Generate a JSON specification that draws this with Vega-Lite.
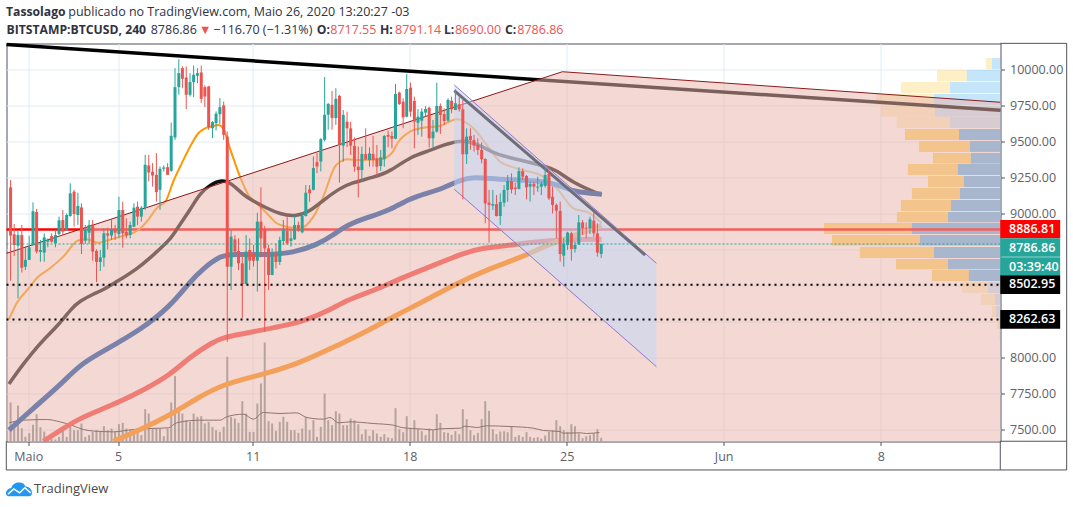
{"$schema":"https://vega.github.io/schema/vega-lite/v6.json","width":994,"height":398,"autosize":{"type":"none"},"padding":{"left":6.5,"top":43.5,"right":72.5,"bottom":65.5},"background":"#ffffff","config":{"view":{"stroke":"#50535e","strokeWidth":1},"font":"Open Sans"},
"datasets":{
"candles":[
{"d":0.21,"o":9180,"h":9231,"l":8532,"c":8845,"v":117},{"d":0.37,"o":8854,"h":8926,"l":8703,"c":8780,"v":60},{"d":0.54,"o":8775,"h":8884,"l":8410,"c":8849,"v":108},{"d":0.71,"o":8849,"h":8919,"l":8588,"c":8622,"v":40},{"d":0.87,"o":8629,"h":8768,"l":8606,"c":8676,"v":14},{"d":1.04,"o":8676,"h":8844,"l":8676,"c":8764,"v":25},{"d":1.21,"o":8780,"h":9076,"l":8773,"c":9014,"v":50},{"d":1.37,"o":9009,"h":9030,"l":8722,"c":8734,"v":82},{"d":1.54,"o":8731,"h":8815,"l":8664,"c":8745,"v":43},{"d":1.71,"o":8727,"h":8861,"l":8664,"c":8833,"v":30},
{"d":1.87,"o":8803,"h":8826,"l":8764,"c":8815,"v":8},{"d":2.04,"o":8842,"h":8861,"l":8796,"c":8803,"v":8},{"d":2.21,"o":8791,"h":8884,"l":8764,"c":8849,"v":6},{"d":2.37,"o":8856,"h":8977,"l":8849,"c":8951,"v":14},{"d":2.54,"o":8953,"h":9023,"l":8849,"c":8872,"v":44},{"d":2.71,"o":8884,"h":9000,"l":8879,"c":8988,"v":14},{"d":2.87,"o":8981,"h":9208,"l":8976,"c":9139,"v":59},{"d":3.04,"o":9150,"h":9162,"l":8907,"c":8995,"v":34},{"d":3.21,"o":8988,"h":9143,"l":8919,"c":9051,"v":34},{"d":3.37,"o":9041,"h":9069,"l":8717,"c":8787,"v":54},
{"d":3.54,"o":8810,"h":8919,"l":8787,"c":8884,"v":14},{"d":3.71,"o":8865,"h":8953,"l":8787,"c":8919,"v":19},{"d":3.87,"o":8923,"h":8953,"l":8671,"c":8734,"v":29},{"d":4.04,"o":8738,"h":8750,"l":8523,"c":8662,"v":34},{"d":4.21,"o":8662,"h":8745,"l":8599,"c":8694,"v":29},{"d":4.37,"o":8692,"h":8895,"l":8629,"c":8861,"v":46},{"d":4.54,"o":8861,"h":8900,"l":8750,"c":8845,"v":34},{"d":4.71,"o":8845,"h":8953,"l":8815,"c":8888,"v":39},{"d":4.87,"o":8888,"h":8919,"l":8815,"c":8865,"v":29},{"d":5.04,"o":8856,"h":9115,"l":8826,"c":9023,"v":52},
{"d":5.21,"o":9023,"h":9081,"l":8761,"c":8861,"v":56},{"d":5.37,"o":8872,"h":8965,"l":8826,"c":8845,"v":39},{"d":5.54,"o":8849,"h":8942,"l":8826,"c":8919,"v":34},{"d":5.71,"o":8907,"h":9069,"l":8902,"c":9039,"v":34},{"d":5.87,"o":9046,"h":9081,"l":8919,"c":8977,"v":29},{"d":6.04,"o":8977,"h":9050,"l":8942,"c":9039,"v":19},{"d":6.21,"o":9036,"h":9406,"l":9024,"c":9337,"v":97},{"d":6.37,"o":9332,"h":9406,"l":9221,"c":9283,"v":84},{"d":6.54,"o":9288,"h":9348,"l":9185,"c":9262,"v":39},{"d":6.71,"o":9267,"h":9418,"l":9082,"c":9147,"v":39},
{"d":6.87,"o":9163,"h":9325,"l":9024,"c":9309,"v":39},{"d":7.04,"o":9309,"h":9332,"l":9290,"c":9318,"v":16},{"d":7.21,"o":9320,"h":9348,"l":9267,"c":9267,"v":39},{"d":7.37,"o":9295,"h":9630,"l":9288,"c":9538,"v":117},{"d":7.54,"o":9527,"h":10008,"l":9510,"c":9876,"v":196},{"d":7.71,"o":9876,"h":10070,"l":9823,"c":9973,"v":102},{"d":7.87,"o":10008,"h":10020,"l":9869,"c":9934,"v":84},{"d":8.04,"o":9943,"h":10020,"l":9723,"c":9823,"v":64},{"d":8.21,"o":9823,"h":9973,"l":9811,"c":9911,"v":59},{"d":8.37,"o":9911,"h":10026,"l":9807,"c":9962,"v":84},
{"d":8.54,"o":9955,"h":10008,"l":9904,"c":9973,"v":74},{"d":8.71,"o":9978,"h":10026,"l":9765,"c":9795,"v":76},{"d":8.87,"o":9876,"h":9888,"l":9737,"c":9811,"v":54},{"d":9.04,"o":9881,"h":9885,"l":9580,"c":9598,"v":59},{"d":9.21,"o":9591,"h":9640,"l":9522,"c":9633,"v":44},{"d":9.37,"o":9626,"h":9707,"l":9575,"c":9691,"v":34},{"d":9.54,"o":9688,"h":9800,"l":9621,"c":9737,"v":29},{"d":9.71,"o":9749,"h":9776,"l":9510,"c":9545,"v":44},{"d":9.87,"o":9533,"h":9568,"l":8108,"c":8629,"v":254},{"d":10.04,"o":8629,"h":8884,"l":8467,"c":8838,"v":74},
{"d":10.21,"o":8819,"h":8849,"l":8720,"c":8734,"v":69},{"d":10.37,"o":8738,"h":8826,"l":8606,"c":8652,"v":56},{"d":10.54,"o":8652,"h":8722,"l":8272,"c":8509,"v":121},{"d":10.71,"o":8509,"h":8849,"l":8505,"c":8734,"v":84},{"d":10.87,"o":8745,"h":8826,"l":8606,"c":8671,"v":29},{"d":11.04,"o":8717,"h":8780,"l":8630,"c":8671,"v":29},{"d":11.21,"o":8671,"h":9004,"l":8456,"c":8942,"v":114},{"d":11.37,"o":8942,"h":9180,"l":8694,"c":8826,"v":174},{"d":11.54,"o":8888,"h":8912,"l":8178,"c":8756,"v":297},{"d":11.71,"o":8756,"h":8780,"l":8467,"c":8571,"v":61},
{"d":11.87,"o":8571,"h":8756,"l":8571,"c":8722,"v":54},{"d":12.04,"o":8722,"h":8791,"l":8617,"c":8662,"v":32},{"d":12.21,"o":8662,"h":8838,"l":8641,"c":8815,"v":59},{"d":12.37,"o":8808,"h":8953,"l":8780,"c":8888,"v":74},{"d":12.54,"o":8877,"h":8981,"l":8780,"c":8791,"v":59},{"d":12.71,"o":8808,"h":8880,"l":8768,"c":8826,"v":34},{"d":12.87,"o":8819,"h":8981,"l":8815,"c":8919,"v":34},{"d":13.04,"o":8919,"h":8942,"l":8872,"c":8879,"v":26},{"d":13.21,"o":8868,"h":9000,"l":8861,"c":8981,"v":39},{"d":13.37,"o":8981,"h":9196,"l":8977,"c":9143,"v":74},
{"d":13.54,"o":9166,"h":9196,"l":9080,"c":9139,"v":34},{"d":13.71,"o":9163,"h":9395,"l":9158,"c":9314,"v":64},{"d":13.87,"o":9355,"h":9418,"l":9279,"c":9325,"v":14},{"d":14.04,"o":9360,"h":9522,"l":9290,"c":9515,"v":44},{"d":14.21,"o":9510,"h":9946,"l":9499,"c":9684,"v":144},{"d":14.37,"o":9684,"h":9765,"l":9580,"c":9760,"v":64},{"d":14.54,"o":9753,"h":9849,"l":9580,"c":9661,"v":49},{"d":14.71,"o":9661,"h":9869,"l":9614,"c":9795,"v":91},{"d":14.87,"o":9815,"h":9823,"l":9213,"c":9480,"v":84},{"d":15.04,"o":9470,"h":9717,"l":9358,"c":9683,"v":49},
{"d":15.21,"o":9636,"h":9706,"l":9460,"c":9590,"v":49},{"d":15.37,"o":9590,"h":9636,"l":9405,"c":9470,"v":69},{"d":15.54,"o":9467,"h":9527,"l":9289,"c":9324,"v":64},{"d":15.71,"o":9324,"h":9463,"l":9110,"c":9300,"v":52},{"d":15.87,"o":9300,"h":9463,"l":9220,"c":9412,"v":22},{"d":16.04,"o":9412,"h":9590,"l":9370,"c":9375,"v":36},{"d":16.21,"o":9370,"h":9458,"l":9324,"c":9416,"v":17},{"d":16.37,"o":9412,"h":9537,"l":9324,"c":9370,"v":34},{"d":16.54,"o":9382,"h":9474,"l":9254,"c":9324,"v":24},{"d":16.71,"o":9328,"h":9440,"l":9294,"c":9389,"v":14},
{"d":16.87,"o":9375,"h":9544,"l":9324,"c":9537,"v":22},{"d":17.04,"o":9544,"h":9574,"l":9458,"c":9532,"v":12},{"d":17.21,"o":9537,"h":9567,"l":9451,"c":9518,"v":10},{"d":17.37,"o":9518,"h":9898,"l":9514,"c":9828,"v":100},{"d":17.54,"o":9838,"h":9845,"l":9752,"c":9759,"v":37},{"d":17.71,"o":9775,"h":9798,"l":9590,"c":9666,"v":28},{"d":17.87,"o":9671,"h":9967,"l":9666,"c":9863,"v":76},{"d":18.04,"o":9872,"h":9907,"l":9671,"c":9706,"v":40},{"d":18.21,"o":9780,"h":9810,"l":9451,"c":9636,"v":64},{"d":18.37,"o":9629,"h":9724,"l":9544,"c":9671,"v":38},
{"d":18.54,"o":9643,"h":9729,"l":9532,"c":9706,"v":31},{"d":18.71,"o":9699,"h":9745,"l":9671,"c":9724,"v":19},{"d":18.87,"o":9733,"h":9740,"l":9458,"c":9521,"v":39},{"d":19.04,"o":9521,"h":9648,"l":9458,"c":9567,"v":34},{"d":19.21,"o":9567,"h":9907,"l":9560,"c":9745,"v":82},{"d":19.37,"o":9745,"h":9763,"l":9551,"c":9683,"v":56},{"d":19.54,"o":9689,"h":9729,"l":9613,"c":9641,"v":28},{"d":19.71,"o":9643,"h":9798,"l":9636,"c":9787,"v":26},{"d":19.87,"o":9782,"h":9810,"l":9694,"c":9722,"v":20},{"d":20.04,"o":9717,"h":9860,"l":9717,"c":9764,"v":31},
{"d":20.21,"o":9757,"h":9810,"l":9706,"c":9722,"v":22},{"d":20.37,"o":9722,"h":9787,"l":9097,"c":9410,"v":97},{"d":20.54,"o":9410,"h":9590,"l":9342,"c":9532,"v":67},{"d":20.71,"o":9537,"h":9590,"l":9440,"c":9509,"v":34},{"d":20.87,"o":9509,"h":9544,"l":9428,"c":9470,"v":19},{"d":21.04,"o":9474,"h":9520,"l":9405,"c":9440,"v":26},{"d":21.21,"o":9440,"h":9493,"l":9347,"c":9375,"v":67},{"d":21.37,"o":9377,"h":9382,"l":8930,"c":9069,"v":121},{"d":21.54,"o":9074,"h":9162,"l":8796,"c":9058,"v":92},{"d":21.71,"o":9053,"h":9162,"l":9023,"c":9064,"v":37},
{"d":21.87,"o":9064,"h":9127,"l":8977,"c":8981,"v":22},{"d":22.04,"o":8981,"h":9138,"l":8919,"c":9078,"v":30},{"d":22.21,"o":9074,"h":9196,"l":9046,"c":9162,"v":31},{"d":22.37,"o":9162,"h":9266,"l":9080,"c":9224,"v":28},{"d":22.54,"o":9224,"h":9277,"l":9138,"c":9166,"v":44},{"d":22.71,"o":9178,"h":9212,"l":9127,"c":9169,"v":14},{"d":22.87,"o":9169,"h":9319,"l":9166,"c":9293,"v":19},{"d":23.04,"o":9293,"h":9312,"l":9231,"c":9254,"v":14},{"d":23.21,"o":9259,"h":9266,"l":9097,"c":9180,"v":28},{"d":23.37,"o":9185,"h":9220,"l":9081,"c":9203,"v":14},
{"d":23.54,"o":9203,"h":9220,"l":9127,"c":9185,"v":11},{"d":23.71,"o":9178,"h":9254,"l":9150,"c":9185,"v":13},{"d":23.87,"o":9185,"h":9220,"l":9127,"c":9203,"v":9},{"d":24.04,"o":9190,"h":9319,"l":9178,"c":9266,"v":18},{"d":24.21,"o":9273,"h":9312,"l":9092,"c":9104,"v":29},{"d":24.37,"o":9115,"h":9185,"l":8999,"c":9058,"v":34},{"d":24.54,"o":9058,"h":9069,"l":8826,"c":9018,"v":64},{"d":24.71,"o":9016,"h":9081,"l":8664,"c":8717,"v":46},{"d":24.87,"o":8706,"h":8826,"l":8629,"c":8791,"v":34},{"d":25.04,"o":8780,"h":8872,"l":8745,"c":8866,"v":29},
{"d":25.21,"o":8861,"h":8872,"l":8671,"c":8752,"v":52},{"d":25.37,"o":8752,"h":8803,"l":8727,"c":8780,"v":46},{"d":25.54,"o":8784,"h":8988,"l":8780,"c":8937,"v":24},{"d":25.71,"o":8937,"h":8953,"l":8849,"c":8896,"v":10},{"d":25.87,"o":8900,"h":8937,"l":8826,"c":8895,"v":16},{"d":26.04,"o":8896,"h":8976,"l":8856,"c":8958,"v":19},{"d":26.21,"o":8949,"h":9011,"l":8838,"c":8861,"v":24},{"d":26.37,"o":8861,"h":8930,"l":8699,"c":8727,"v":37},{"d":26.54,"o":8717.55,"h":8791.14,"l":8690,"c":8786.86,"v":11}],
"volma":[{"d":0.14,"v":56},{"d":0.78,"v":64},{"d":1.82,"v":66},{"d":2.41,"v":59},{"d":2.93,"v":49},{"d":3.45,"v":36},{"d":3.97,"v":31},{"d":4.79,"v":29},{"d":5.68,"v":36},{"d":6.43,"v":39},{"d":7.24,"v":41},{"d":7.61,"v":56},{"d":8.65,"v":64},{"d":9.55,"v":64},{"d":9.84,"v":74},{"d":10.59,"v":82},{"d":11.03,"v":67},{"d":11.48,"v":87},{"d":12.22,"v":84},{"d":12.96,"v":86},{"d":13.41,"v":72},{"d":14.15,"v":67},{"d":14.45,"v":72},{"d":14.82,"v":56},{"d":15.34,"v":59},{"d":16.38,"v":54},{"d":17.27,"v":49},{"d":17.64,"v":42},{"d":18.61,"v":37},{"d":19.06,"v":35},{"d":19.35,"v":38},{"d":20.25,"v":40},{"d":20.47,"v":46},{"d":20.99,"v":42},{"d":21.43,"v":47},{"d":22.47,"v":45},{"d":23.51,"v":40},{"d":23.96,"v":33},{"d":24.7,"v":30},{"d":24.85,"v":25},{"d":25.6,"v":26},{"d":25.89,"v":24},{"d":26.46,"v":27}],
"ma20":[{"d":0.14,"p":8264},{"d":0.48,"p":8375},{"d":1.08,"p":8490},{"d":1.37,"p":8549},{"d":1.97,"p":8618},{"d":2.56,"p":8699},{"d":3.22,"p":8811},{"d":3.6,"p":8819},{"d":4.12,"p":8796},{"d":4.49,"p":8810},{"d":5.09,"p":8838},{"d":5.9,"p":8884},{"d":6.28,"p":8942},{"d":6.72,"p":9035},{"d":7.14,"p":9089},{"d":7.46,"p":9219},{"d":7.84,"p":9347},{"d":8.21,"p":9462},{"d":8.58,"p":9556},{"d":8.88,"p":9590},{"d":9.25,"p":9606},{"d":9.47,"p":9613},{"d":9.69,"p":9590},{"d":9.99,"p":9451},{"d":10.44,"p":9254},{"d":10.81,"p":9127},{"d":11.18,"p":9070},{"d":11.63,"p":9000},{"d":12.07,"p":8931},{"d":12.52,"p":8907},{"d":13.11,"p":8896},{"d":13.71,"p":8977},{"d":14.15,"p":9115},{"d":14.67,"p":9324},{"d":14.9,"p":9358},{"d":15.19,"p":9375},{"d":15.79,"p":9370},{"d":16.68,"p":9375},{"d":17.2,"p":9417},{"d":17.5,"p":9497},{"d":18.02,"p":9567},{"d":18.61,"p":9594},{"d":19.35,"p":9606},{"d":20.1,"p":9653},{"d":20.84,"p":9590},{"d":21.44,"p":9474},{"d":22.03,"p":9358},{"d":22.77,"p":9312},{"d":23.96,"p":9254},{"d":24.56,"p":9174},{"d":25.3,"p":9034},{"d":26.04,"p":9000},{"d":26.56,"p":8931}],
"ma50":[{"d":0.14,"p":7815},{"d":0.63,"p":7924},{"d":1.15,"p":8028},{"d":1.74,"p":8132},{"d":2.34,"p":8224},{"d":2.93,"p":8340},{"d":3.3,"p":8391},{"d":3.9,"p":8440},{"d":4.34,"p":8467},{"d":4.94,"p":8525},{"d":5.9,"p":8618},{"d":6.65,"p":8722},{"d":7.32,"p":8815},{"d":7.69,"p":8907},{"d":8.21,"p":9023},{"d":8.65,"p":9139},{"d":9.1,"p":9197},{"d":9.62,"p":9236},{"d":10.07,"p":9208},{"d":10.58,"p":9127},{"d":11.03,"p":9085},{"d":11.63,"p":9035},{"d":12.22,"p":8995},{"d":12.89,"p":8976},{"d":13.56,"p":9011},{"d":14.15,"p":9092},{"d":14.9,"p":9174},{"d":15.34,"p":9208},{"d":16.38,"p":9250},{"d":17.12,"p":9289},{"d":18.02,"p":9393},{"d":18.91,"p":9435},{"d":19.5,"p":9474},{"d":20.25,"p":9509},{"d":20.99,"p":9486},{"d":21.88,"p":9405},{"d":22.77,"p":9377},{"d":23.96,"p":9329},{"d":24.56,"p":9301},{"d":25.3,"p":9208},{"d":26.56,"p":9127}],
"ma100":[{"d":0.14,"p":7495},{"d":1.22,"p":7646},{"d":2.34,"p":7796},{"d":3.3,"p":7947},{"d":4.05,"p":8016},{"d":4.94,"p":8097},{"d":5.98,"p":8190},{"d":7.32,"p":8352},{"d":8.21,"p":8525},{"d":8.8,"p":8618},{"d":9.62,"p":8710},{"d":10.14,"p":8717},{"d":11.63,"p":8710},{"d":12.81,"p":8726},{"d":13.86,"p":8780},{"d":14.6,"p":8849},{"d":15.19,"p":8919},{"d":16.23,"p":8976},{"d":17.12,"p":9023},{"d":18.02,"p":9104},{"d":18.76,"p":9139},{"d":19.5,"p":9174},{"d":20.25,"p":9231},{"d":20.84,"p":9254},{"d":21.88,"p":9236},{"d":23.07,"p":9231},{"d":24.11,"p":9220},{"d":24.85,"p":9185},{"d":25.3,"p":9150},{"d":26.56,"p":9132}],
"ma200":[{"d":1.67,"p":7417},{"d":2.56,"p":7507},{"d":3.3,"p":7576},{"d":4.2,"p":7634},{"d":5.09,"p":7692},{"d":6.13,"p":7773},{"d":7.32,"p":7877},{"d":8.21,"p":8004},{"d":9.25,"p":8108},{"d":9.69,"p":8139},{"d":11.03,"p":8178},{"d":12.37,"p":8218},{"d":13.41,"p":8259},{"d":14.45,"p":8329},{"d":15.19,"p":8398},{"d":16.68,"p":8480},{"d":17.42,"p":8537},{"d":18.91,"p":8629},{"d":20.39,"p":8722},{"d":21.14,"p":8757},{"d":22.62,"p":8780},{"d":24.11,"p":8815},{"d":26.56,"p":8820}],
"ma300":[{"d":4.79,"p":7417},{"d":6.13,"p":7507},{"d":7.32,"p":7599},{"d":8.51,"p":7715},{"d":9.69,"p":7815},{"d":11.48,"p":7882},{"d":13.11,"p":7959},{"d":14.9,"p":8092},{"d":15.93,"p":8167},{"d":17.12,"p":8271},{"d":18.76,"p":8398},{"d":19.95,"p":8502},{"d":21.58,"p":8618},{"d":23.07,"p":8699},{"d":24.11,"p":8780},{"d":26.56,"p":8915}],
"profile":[{"lo":9999.7,"hi":10078.4,"start":43.69,"mid":43.96,"end":44.33,"zone":"out"},{"lo":9916,"hi":9995,"start":41.51,"mid":42.84,"end":44.33,"zone":"out"},{"lo":9833,"hi":9912,"start":39.9,"mid":42.09,"end":44.33,"zone":"out"},{"lo":9752,"hi":9828,"start":38.79,"mid":41.37,"end":44.33,"zone":"out"},{"lo":9671,"hi":9745,"start":39.01,"mid":41.42,"end":44.33,"zone":"out"},{"lo":9592,"hi":9669,"start":39.72,"mid":42.09,"end":44.33,"zone":"out"},{"lo":9509,"hi":9585,"start":40.08,"mid":42.49,"end":44.33,"zone":"in"},{"lo":9426,"hi":9502,"start":40.71,"mid":42.98,"end":44.33,"zone":"in"},{"lo":9345,"hi":9419,"start":41.33,"mid":43.02,"end":44.33,"zone":"in"},{"lo":9266,"hi":9342,"start":40.21,"mid":42.44,"end":44.33,"zone":"in"},{"lo":9183,"hi":9259,"start":41.11,"mid":42.71,"end":44.33,"zone":"in"},{"lo":9099,"hi":9176,"start":40.39,"mid":42.53,"end":44.33,"zone":"in"},{"lo":9016,"hi":9092,"start":39.9,"mid":42.13,"end":44.33,"zone":"in"},{"lo":8937,"hi":9009,"start":39.72,"mid":42.0,"end":44.33,"zone":"in"},{"lo":8856,"hi":8933,"start":36.47,"mid":40.39,"end":44.33,"zone":"in"},{"lo":8777,"hi":8849,"start":36.83,"mid":40.75,"end":44.33,"zone":"in"},{"lo":8690,"hi":8766,"start":38.07,"mid":41.37,"end":44.33,"zone":"in"},{"lo":8611,"hi":8683,"start":39.68,"mid":42.0,"end":44.33,"zone":"in"},{"lo":8530,"hi":8606,"start":41.28,"mid":42.93,"end":44.33,"zone":"in"},{"lo":8446,"hi":8523,"start":42.62,"mid":43.78,"end":44.33,"zone":"out"},{"lo":8363,"hi":8440,"start":43.47,"mid":44.09,"end":44.33,"zone":"out"},{"lo":8280,"hi":8356,"start":43.96,"mid":44.14,"end":44.33,"zone":"out"},{"lo":8196,"hi":8273,"start":44.17,"mid":44.27,"end":44.33,"zone":"out"},{"lo":8120,"hi":8190,"start":44.29,"mid":44.32,"end":44.33,"zone":"out"}],
"frame":[{"d":44.33,"d2":47.29,"p":10180,"p2":10180},{"d":47.29,"d2":47.29,"p":10180,"p2":7217.6},{"d":0.019,"d2":47.29,"p":7217.6,"p2":7217.6},{"d":0.019,"d2":0.019,"p":7417,"p2":7217.6},{"d":44.33,"d2":44.33,"p":7417,"p2":7217.6},{"d":44.33,"d2":47.29,"p":7417,"p2":7417}]
},
"encoding":{"x":{"field":"d","type":"quantitative","title":null,"scale":{"domain":[0.028,44.34],"nice":false,"zero":false,"padding":0},"axis":{"values":[1,5,11,18,25,32,39],"labelExpr":"datum.value==1?'Maio':datum.value==32?'Jun':datum.value==39?'8':format(datum.value,'d')","grid":true,"gridColor":"#e1ecf2","gridWidth":1,"domain":false,"tickColor":"#50535e","tickSize":4,"labelColor":"#5d606b","labelFontSize":12.5,"labelPadding":5,"labelFont":"Open Sans","labelFlush":false,"labelOverlap":false}}},
"resolve":{"scale":{"y":"independent"}},
"layer":[
{"encoding":{"y":{"field":"v","type":"quantitative","axis":null,"scale":{"domain":[0,1194],"nice":false}}},"layer":[
{"data":{"name":"candles"},"mark":{"type":"bar","size":2,"color":"#82908f","orient":"vertical"}},
{"data":{"name":"volma"},"mark":{"type":"line","color":"#2c2c2c","strokeWidth":1,"interpolate":"monotone"}}
]},
{"encoding":{"y":{"field":"p","type":"quantitative","title":null,"scale":{"domain":[7415.3,10179],"nice":false,"zero":false},"axis":{"orient":"right","values":[7500,7750,8000,8250,8500,8750,9000,9250,9500,9750,10000],"labelExpr":"datum.value==8250||datum.value==8500||datum.value==8750?'':format(datum.value,'.2f')","grid":true,"gridColor":"#e1ecf2","gridWidth":1,"domain":false,"tickColor":"#50535e","tickSize":4,"labelColor":"#5d606b","labelFontSize":12.5,"labelPadding":5,"labelFont":"Open Sans","labelOverlap":false,"title":null}}},"layer":[
{"data":{"name":"profile"},"mark":{"type":"rect","color":"#ffd25f"},"encoding":{"x":{"field":"start","type":"quantitative"},"x2":{"field":"mid"},"y":{"field":"lo","type":"quantitative","title":null},"y2":{"field":"hi"},"opacity":{"condition":{"test":"datum.zone=='in'","value":0.95},"value":0.35}}},
{"data":{"name":"profile"},"mark":{"type":"rect","color":"#58b4f4"},"encoding":{"x":{"field":"mid","type":"quantitative"},"x2":{"field":"end"},"y":{"field":"lo","type":"quantitative","title":null},"y2":{"field":"hi"},"opacity":{"condition":{"test":"datum.zone=='in'","value":0.95},"value":0.35}}},
{"data":{"values":[{"d":0.028,"d2":44.33,"p":8886.81,"level":"resistance"}]},"mark":{"type":"rule","color":"#ff0000","strokeWidth":2.5},"encoding":{"x2":{"field":"d2"}}},
{"data":{"values":[{"d":0.028,"p":10172},{"d":44.33,"p":9715}]},"mark":{"type":"line","color":"#000000","strokeWidth":3.5}},
{"data":{"name":"ma20"},"mark":{"type":"line","color":"#ff9800","strokeWidth":2,"interpolate":"monotone"}},
{"data":{"name":"ma50"},"mark":{"type":"line","color":"#111111","strokeWidth":3.5,"interpolate":"basis"}},
{"data":{"name":"ma100"},"mark":{"type":"line","color":"#004aa8","strokeWidth":5,"interpolate":"basis"}},
{"data":{"name":"ma200"},"mark":{"type":"line","color":"#f8403a","strokeWidth":5,"interpolate":"basis","clip":true}},
{"data":{"name":"ma300"},"mark":{"type":"line","color":"#ff8a00","strokeWidth":5,"interpolate":"basis","clip":true}},
{"data":{"values":[{"d":0.028,"p":8722,"p2":7415.3},{"d":24.81,"p":9983,"p2":7415.3},{"d":44.33,"p":9771,"p2":7415.3}]},"mark":{"type":"area","color":"#e8b5ab","opacity":0.525},"encoding":{"y2":{"field":"p2"}}},
{"data":{"values":[{"d":0.028,"p":8722},{"d":24.81,"p":9983},{"d":44.33,"p":9771}]},"mark":{"type":"line","color":"#8b1a1a","strokeWidth":1}},
{"data":{"values":[{"d":19.99,"p":9891,"p2":9167},{"d":29.0,"p":8653,"p2":7935}]},"mark":{"type":"area","color":"#c0d7fb","opacity":0.5},"encoding":{"y2":{"field":"p2"}}},
{"data":{"values":[{"d":19.99,"p":9891,"e":"a"},{"d":29.0,"p":8653,"e":"a"},{"d":19.99,"p":9167,"e":"b"},{"d":29.0,"p":7935,"e":"b"}]},"mark":{"type":"line","color":"#9575cd","strokeWidth":1},"encoding":{"detail":{"field":"e"}}},
{"data":{"values":[{"d":19.99,"p":9851},{"d":28.5,"p":8710}]},"mark":{"type":"line","color":"#6e6e7a","strokeWidth":3}},
{"data":{"name":"candles"},"mark":{"type":"rule","strokeWidth":1},"encoding":{"y":{"field":"l","type":"quantitative","title":null},"y2":{"field":"h"},"color":{"condition":{"test":"datum.c>=datum.o","value":"#26a69a"},"value":"#ef5350"}}},
{"data":{"name":"candles"},"mark":{"type":"bar","size":3,"orient":"vertical"},"encoding":{"y":{"field":"o","type":"quantitative","title":null},"y2":{"field":"c"},"color":{"condition":{"test":"datum.c>=datum.o","value":"#26a69a"},"value":"#ef5350"}}},
{"data":{"values":[{"d":0.028,"d2":44.33,"p":8786.86}]},"mark":{"type":"rule","color":"#26a69a","strokeWidth":1.2,"strokeDash":[2,2]},"encoding":{"x2":{"field":"d2"}}},
{"data":{"values":[{"d":0.028,"d2":44.33,"p":8502.95},{"d":0.028,"d2":44.33,"p":8262.63}]},"mark":{"type":"rule","color":"#000000","strokeWidth":2,"strokeDash":[2,4]},"encoding":{"x2":{"field":"d2"}}},
{"data":{"name":"frame"},"mark":{"type":"rule","color":"#50535e","strokeWidth":1},"encoding":{"x2":{"field":"d2"},"y2":{"field":"p2"}}},
{"data":{"values":[{"d":44.33,"d2":47.0,"p":8954,"p2":8826.5,"k":"a"},{"d":44.33,"d2":47.0,"p":8826.5,"p2":8699,"k":"b"},{"d":44.33,"d2":47.0,"p":8694.5,"p2":8571.6,"k":"b"},{"d":44.33,"d2":47.0,"p":8569.5,"p2":8439.7,"k":"c"},{"d":44.33,"d2":47.0,"p":8329,"p2":8199,"k":"c"}]},"mark":{"type":"rect"},"encoding":{"x2":{"field":"d2"},"y2":{"field":"p2"},"color":{"field":"k","type":"nominal","legend":null,"scale":{"domain":["a","b","c"],"range":["#ff0000","#26a69a","#000000"]}}}},
{"data":{"values":[{"d":44.72,"p":8889,"t":"8886.81"},{"d":44.72,"p":8761,"t":"8786.86"},{"d":44.72,"p":8625,"t":"03:39:40"},{"d":44.72,"p":8507,"t":"8502.95"},{"d":44.72,"p":8264,"t":"8262.63"}]},"mark":{"type":"text","align":"left","baseline":"middle","color":"#ffffff","fontSize":12.5,"font":"Open Sans","fontWeight":600},"encoding":{"text":{"field":"t"}}},
{"data":{"values":[{"d":0.006,"p":10398,"t":"Tassolago"},{"d":0.028,"p":10273,"t":"BITSTAMP:BTCUSD, 240"},{"d":13.86,"p":10273,"t":"O:"},{"d":16.68,"p":10273,"t":"H:"},{"d":19.53,"p":10273,"t":"L:"},{"d":22.25,"p":10273,"t":"C:"}]},"mark":{"type":"text","align":"left","baseline":"middle","color":"#2f3241","fontSize":12.2,"font":"Open Sans","fontWeight":"bold"},"encoding":{"text":{"field":"t"}}},
{"data":{"values":[{"d":2.783,"p":10398,"t":"publicado no TradingView.com, Maio 26, 2020 13:20:27 -03"},{"d":6.456,"p":10273,"t":"8786.86"},{"d":9.25,"p":10273,"t":"−116.70 (−1.31%)"}]},"mark":{"type":"text","align":"left","baseline":"middle","color":"#2f3241","fontSize":12.5,"font":"Open Sans"},"encoding":{"text":{"field":"t"}}},
{"data":{"values":[{"d":8.61,"p":10273,"t":"▼"},{"d":14.46,"p":10273,"t":"8717.55"},{"d":17.35,"p":10273,"t":"8791.14"},{"d":20.02,"p":10273,"t":"8690.00"},{"d":22.8,"p":10273,"t":"8786.86"}]},"mark":{"type":"text","align":"left","baseline":"middle","color":"#ef5350","fontSize":12.5,"font":"Open Sans"},"encoding":{"text":{"field":"t"}}},
{"data":{"values":[{"d":1.254,"p":7085.6,"t":"TradingView"}]},"mark":{"type":"text","align":"left","baseline":"middle","color":"#4a4a4a","fontSize":13,"font":"Open Sans"},"encoding":{"text":{"field":"t"}}},
{"data":{"values":[{"d":0.585,"p":7085.6}]},"mark":{"type":"point","filled":true,"opacity":1,"color":"#2196f3","size":676,"shape":"M-1,.35 C-1,.1 -.8,-.05 -.6,-.05 C-.55,-.35 -.25,-.55 .05,-.5 C.3,-.5 .45,-.35 .5,-.2 C.8,-.2 1,.05 1,.3 C1,.45 .9,.55 .8,.55 L-.8,.55 C-.9,.55 -1,.45 -1,.35 Z"}},
{"data":{"values":[{"d":0.585,"p":7085.6}]},"mark":{"type":"point","filled":false,"opacity":1,"color":"#ffffff","strokeWidth":1.5,"size":676,"shape":"M-.85,.4 L-.4,0 L.05,.3 L.45,-.1 L.9,.3"}}
]}
]}
